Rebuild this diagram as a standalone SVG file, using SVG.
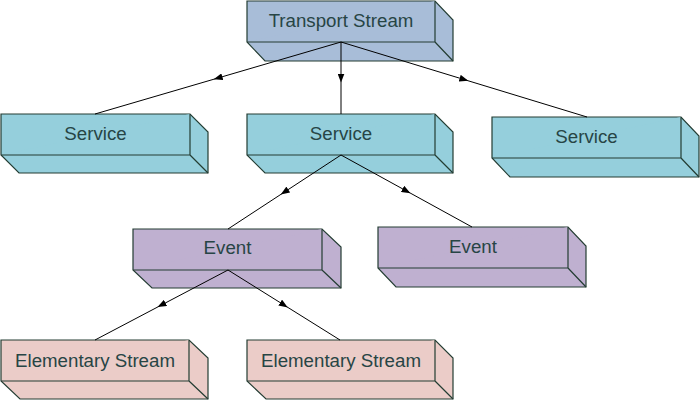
<svg xmlns="http://www.w3.org/2000/svg" width="700" height="401" viewBox="0 0 700 401">
<defs>
<marker id="arr" markerWidth="9" markerHeight="7" refX="4.5" refY="3.5" orient="auto" markerUnits="userSpaceOnUse">
<path d="M0,0 L9,3.5 L0,7 Z" fill="#000"/>
</marker>
<style>
.box{stroke:#243d33;stroke-width:1.2;stroke-linejoin:miter}
.ts{fill:#a8bdd8}
.sv{fill:#95cfdc}
.ev{fill:#bfb0d0}
.es{fill:#ebccc8}
.lbl{font-family:"Liberation Sans",Arial,sans-serif;font-size:18.7px;fill:#274545;text-anchor:middle}
.conn{fill:none;stroke:#000;stroke-width:1;marker-mid:url(#arr)}
</style>
</defs>
<rect width="700" height="401" fill="#fff"/>
<g id="ts">
<path class="box ts" d="M247,1 H435 L453,20 V61 H265 L247,42 Z"/>
<path class="box ts" d="M247,42 H435 V1 M435,42 L453,61"/>
<text class="lbl" x="341" y="27">Transport Stream</text>
</g>
<g id="service1">
<path class="box sv" d="M1,114 H190 L208,132 V173 H19 L1,155 Z"/>
<path class="box sv" d="M1,155 H190 V114 M190,155 L208,173"/>
<text class="lbl" x="95.5" y="140">Service</text>
</g>
<g id="service2">
<path class="box sv" d="M247,114 H435 L453,132 V173 H265 L247,155 Z"/>
<path class="box sv" d="M247,155 H435 V114 M435,155 L453,173"/>
<text class="lbl" x="341" y="140">Service</text>
</g>
<g id="service3">
<path class="box sv" d="M492,117 H681 L699,136 V177 H510 L492,158 Z"/>
<path class="box sv" d="M492,158 H681 V117 M681,158 L699,177"/>
<text class="lbl" x="586.5" y="143">Service</text>
</g>
<g id="event1">
<path class="box ev" d="M133,229 H322 L341,247 V288 H152 L133,270 Z"/>
<path class="box ev" d="M133,270 H322 V229 M322,270 L341,288"/>
<text class="lbl" x="227.5" y="254">Event</text>
</g>
<g id="event2">
<path class="box ev" d="M378,227 H568 L586,246 V287 H396 L378,268 Z"/>
<path class="box ev" d="M378,268 H568 V227 M568,268 L586,287"/>
<text class="lbl" x="473" y="253">Event</text>
</g>
<g id="es1">
<path class="box es" d="M1,340 H189 L208,358 V399 H20 L1,381 Z"/>
<path class="box es" d="M1,381 H189 V340 M189,381 L208,399"/>
<text class="lbl" x="95" y="367">Elementary Stream</text>
</g>
<g id="es2">
<path class="box es" d="M247,340 H435 L453,358 V399 H266 L247,381 Z"/>
<path class="box es" d="M247,381 H435 V340 M435,381 L453,399"/>
<text class="lbl" x="341" y="367">Elementary Stream</text>
</g>
<g id="connectors">
<path class="conn" d="M341,42 L218,78 L95,114"/>
<path class="conn" d="M341,42 L341,78 L341,114"/>
<path class="conn" d="M341,42 L464,79.5 L587,117"/>
<path class="conn" d="M341,155 L284.5,192 L228,229"/>
<path class="conn" d="M341,155 L406.5,191 L472,227"/>
<path class="conn" d="M228,270 L161.5,305 L95,340"/>
<path class="conn" d="M228,270 L284,305 L340,340"/>
</g>
</svg>
